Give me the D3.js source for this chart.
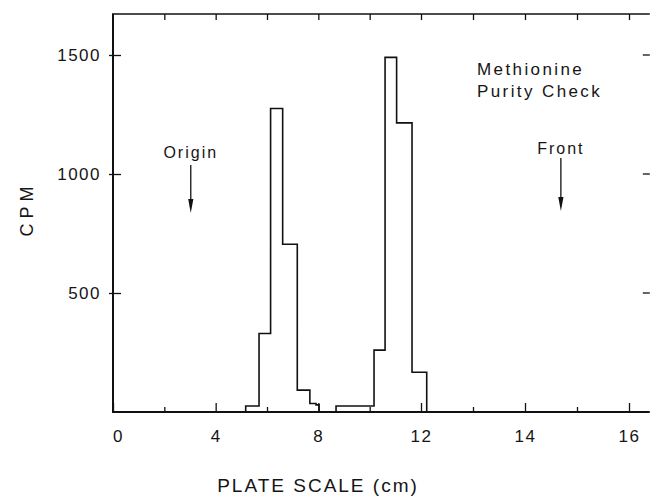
<!DOCTYPE html>
<html>
<head>
<meta charset="utf-8">
<script src="https://cdn.jsdelivr.net/npm/d3@7/dist/d3.min.js"></script>
<style>
  html, body { margin: 0; padding: 0; background: #fff; }
  svg text { font-family: "Liberation Sans", "DejaVu Sans", sans-serif; fill: #151515; }
</style>
</head>
<body>
<svg id="chart" width="650" height="497"></svg>
<script>
// Methionine purity check: radioactivity (CPM) along the TLC plate.
// Bin edges along the plate (cm) and counts per bin for each peak.
const peak1Edges  = [5.17, 5.69, 6.14, 6.61, 7.18, 7.67, 7.91, 8.03];
const peak1Counts = [25, 330, 1275, 705, 92, 36, 30];
const peak2Edges  = [8.69, 10.17, 10.60, 11.05, 11.65, 12.11];
const peak2Counts = [25, 260, 1490, 1215, 167];

// Plate scale ticks and their labels (every second tick labelled)
const xTickValues = [0, 2, 4, 6, 8, 10, 12, 13, 14, 15, 16];
const xTickLabels = ["0", "", "4", "", "8", "", "12", "", "14", "", "16"];
const yTickValues = [500, 1000, 1500];
const yTickLabels = ["500", "1000", "1500"];

// Annotations
const markers = [
  { label: "Origin", at: 3.03, textY: 154, from: 165, to: 213 },
  { label: "Front",  at: 14.69, textY: 150, from: 158, to: 211 }
];
const titleLines = ["Methionine", "Purity Check"];

const svg = d3.select("#chart");

// The plate scale is compressed below 12 cm
const x = d3.scaleLinear().domain([0, 12, 16]).range([113, 421, 629]);
const y = d3.scaleLinear().domain([0, 1500]).range([412, 55]);
const xMax = 16.4, yMax = 1672;

const frame = svg.append("g").attr("stroke", "#111").attr("fill", "none");
// left axis, baseline, top border
frame.append("line").attr("x1", x(0)).attr("x2", x(0)).attr("y1", y(yMax)).attr("y2", y(0)).attr("stroke-width", 2);
frame.append("line").attr("x1", x(0) - 1).attr("x2", x(xMax)).attr("y1", y(0)).attr("y2", y(0)).attr("stroke-width", 2);
frame.append("line").attr("x1", x(0) - 1).attr("x2", x(xMax)).attr("y1", y(yMax)).attr("y2", y(yMax)).attr("stroke-width", 1.6);

// bottom axis: inward ticks, labelled ones longer
const xAxis = d3.axisBottom(x)
  .tickValues(xTickValues)
  .tickSizeInner(0).tickSizeOuter(0)
  .tickPadding(18)
  .tickFormat((d, i) => xTickLabels[i]);
const gx = svg.append("g").attr("transform", `translate(0,${y(0)})`).call(xAxis);
gx.select(".domain").remove();
gx.selectAll(".tick line")
  .attr("y2", (d, i) => xTickLabels[i] ? -9 : -5)
  .attr("stroke", "#111").attr("stroke-width", 1.3);
gx.selectAll(".tick text")
  .attr("font-size", 17).attr("letter-spacing", 1.5)
  .attr("dx", (d) => d === 0 ? 5 : 0);

// top border ticks
const gTop = svg.append("g").attr("transform", `translate(0,${y(yMax)})`)
  .call(d3.axisTop(x).tickValues(xTickValues.slice(1)).tickSize(0).tickFormat(""));
gTop.select(".domain").remove();
gTop.selectAll(".tick line").attr("y2", 6).attr("stroke", "#111").attr("stroke-width", 1.3);

// left axis
const yAxis = d3.axisLeft(y)
  .tickValues(yTickValues)
  .tickSizeInner(0).tickSizeOuter(0)
  .tickPadding(12)
  .tickFormat((d, i) => yTickLabels[i]);
const gy = svg.append("g").attr("transform", `translate(${x(0)},0)`).call(yAxis);
gy.select(".domain").remove();
gy.selectAll(".tick line").attr("x1", -4).attr("x2", 8).attr("stroke", "#111").attr("stroke-width", 1.3);
gy.selectAll(".tick text").attr("font-size", 17).attr("letter-spacing", 1.5);

// right border ticks (border itself runs off the edge)
svg.append("g").selectAll("line").data(yTickValues).join("line")
  .attr("x1", x(xMax) - 7).attr("x2", x(xMax))
  .attr("y1", d => y(d)).attr("y2", d => y(d))
  .attr("stroke", "#111").attr("stroke-width", 1.3);

// histogram outlines
function stepPath(edges, counts) {
  const p = d3.path();
  p.moveTo(x(edges[0]), y(0));
  counts.forEach((c, i) => {
    p.lineTo(x(edges[i]), y(c));
    p.lineTo(x(edges[i + 1]), y(c));
  });
  p.lineTo(x(edges[edges.length - 1]), y(0));
  return p.toString();
}
svg.append("g").attr("fill", "none").attr("stroke", "#111").attr("stroke-width", 1.6)
  .selectAll("path")
  .data([[peak1Edges, peak1Counts], [peak2Edges, peak2Counts]])
  .join("path")
  .attr("d", d => stepPath(d[0], d[1]));

// Origin / Front markers
const mk = svg.append("g").selectAll("g").data(markers).join("g");
mk.append("text")
  .attr("x", d => x(d.at)).attr("y", d => d.textY)
  .attr("text-anchor", "middle").attr("dominant-baseline", "middle")
  .attr("font-size", 16).attr("letter-spacing", 2)
  .text(d => d.label);
mk.append("line")
  .attr("x1", d => x(d.at)).attr("x2", d => x(d.at))
  .attr("y1", d => d.from).attr("y2", d => d.to - 6)
  .attr("stroke", "#111").attr("stroke-width", 1.3);
mk.append("path")
  .attr("d", d => `M${x(d.at) - 2.6},${d.to - 14}L${x(d.at) + 2.6},${d.to - 14}L${x(d.at)},${d.to}Z`)
  .attr("fill", "#111");

// title block
svg.append("g").selectAll("text").data(titleLines).join("text")
  .attr("x", 477).attr("y", (d, i) => 75 + i * 22)
  .attr("font-size", 17).attr("letter-spacing", 2.4)
  .text(d => d);

// axis titles
svg.append("text")
  .attr("transform", `translate(33,${(y(0) + y(yMax)) / 2 - 4}) rotate(-90)`)
  .attr("text-anchor", "middle")
  .attr("font-size", 18).attr("letter-spacing", 5)
  .text("CPM");
svg.append("text")
  .attr("x", 318).attr("y", 492)
  .attr("text-anchor", "middle")
  .attr("font-size", 19).attr("letter-spacing", 2)
  .text("PLATE SCALE (cm)");
</script>
</body>
</html>
